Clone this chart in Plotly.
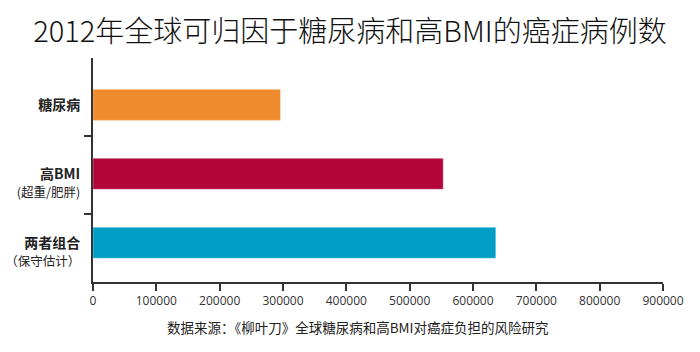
import plotly.graph_objects as go

categories = ["糖尿病", "高BMI", "两者组合"]
sublabels = ["", "(超重/肥胖)", "（保守估计）"]
values = [296000, 553000, 636000]
colors = ["#F08A2E", "#B3063A", "#009DC4"]
tick_vals = [0, 100000, 200000, 300000, 400000, 500000, 600000, 700000, 800000, 900000]
title = "2012年全球可归因于糖尿病和高BMI的癌症病例数"
source = "数据来源：《柳叶刀》全球糖尿病和高BMI对癌症负担的风险研究"

FONT = "Noto Sans CJK SC"
ypos = list(range(len(categories)))
ticktext = []
for c, s in zip(categories, sublabels):
    if s:
        t = (f"<span style='font-size:2px'> </span><br><b>{c}</b>"
             f"<br><span style='font-size:12.5px'>{s}</span>")
    else:
        t = f"<b>{c}</b>"
    ticktext.append(t)

fig = go.Figure(go.Bar(
    x=values, y=ypos, orientation="h", width=0.45,
    marker=dict(color=colors, line=dict(color="rgba(255,255,255,0.35)", width=1)),
))

fig.update_layout(
    width=700, height=352,
    margin=dict(l=93, r=37, t=58, b=70),
    paper_bgcolor="white", plot_bgcolor="white",
    showlegend=False,
    title=dict(text=title, x=0.5, xanchor="center", y=0.91, yanchor="middle",
               font=dict(family=FONT, size=29, color="#111", weight=300)),
    font=dict(family=FONT, color="#222"),
    annotations=[dict(text=source, xref="paper", yref="paper", x=0.465, y=-0.2,
                      xanchor="center", yanchor="middle", showarrow=False,
                      font=dict(family=FONT, size=13.5, color="#222"))],
)

fig.update_xaxes(
    range=[0, 900000], tickvals=tick_vals, ticktext=[str(v) for v in tick_vals],
    showgrid=False, zeroline=False, showline=True, linecolor="#333", linewidth=2,
    ticks="outside", ticklen=7, tickwidth=2, tickcolor="#333", automargin=False,
    tickfont=dict(family="Open Sans", size=12, color="#333"),
)
fig.update_yaxes(
    range=[2.57, -0.68], tickvals=ypos, ticktext=ticktext, automargin=False,
    showgrid=False, zeroline=False, showline=True, linecolor="#333", linewidth=2,
    ticks="", ticklabelstandoff=8,
    tickfont=dict(family=FONT, size=14, color="#222"),
    minor=dict(tickvals=[0.45, 1.58], ticks="outside", ticklen=7, tickwidth=2, tickcolor="#333"),
)

fig.write_html("out.html")
